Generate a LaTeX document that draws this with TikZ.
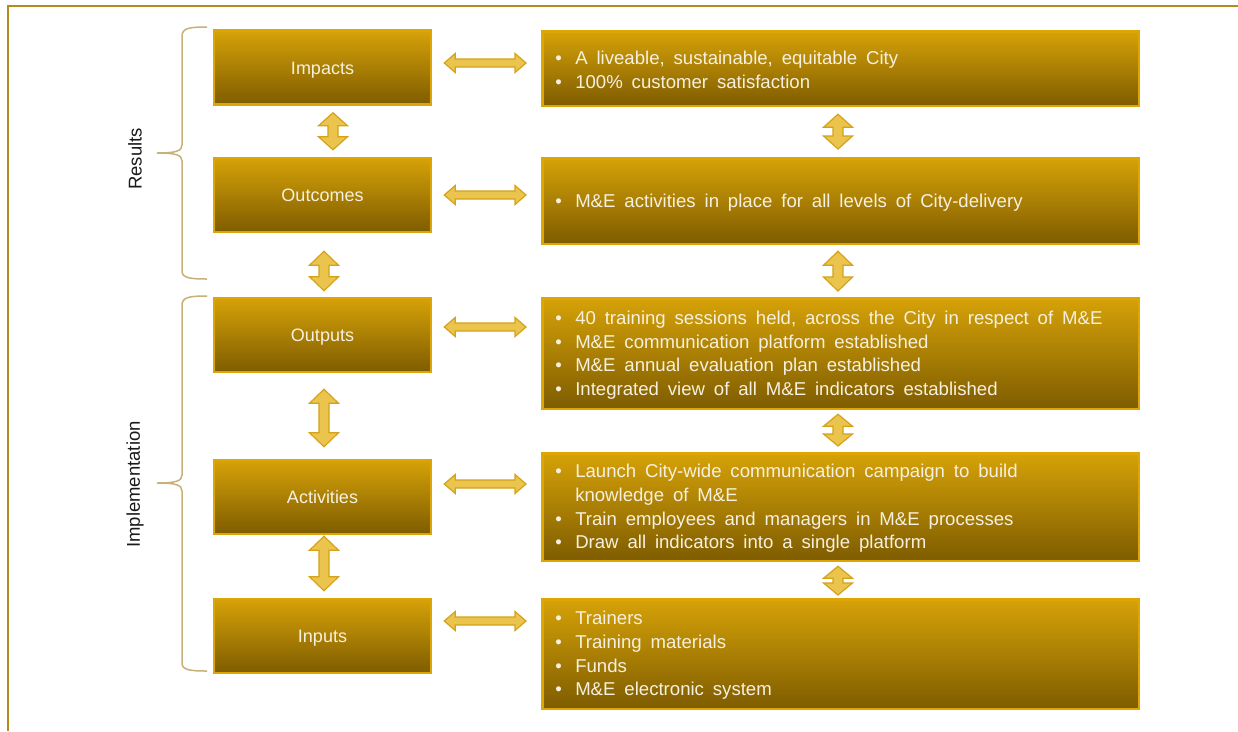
\documentclass[tikz,border=0pt]{standalone}
\usepackage{fontspec}
\setmainfont{Liberation Sans}
\newfontfamily\listfont{Liberation Sans}[WordSpace=1.72]
\usetikzlibrary{calc}

\definecolor{boxedge}{RGB}{222,166,4}
\definecolor{boxtop}{RGB}{214,162,8}
\definecolor{boxbot}{RGB}{126,92,0}
\definecolor{boxtext}{RGB}{246,240,224}
\definecolor{arrfill}{RGB}{234,196,76}
\definecolor{arredge}{RGB}{214,162,26}
\definecolor{bracec}{RGB}{200,176,120}
\definecolor{framec}{RGB}{182,138,32}
\definecolor{labelc}{RGB}{26,26,26}

\tikzset{
  goldbox/.style={draw=boxedge, line width=2.5pt, top color=boxtop, bottom color=boxbot,
    text=boxtext},
  lbox/.style={goldbox, minimum width=217pt, minimum height=74pt, inner sep=0pt,
    font=\fontsize{18}{22}\selectfont, text height=13pt, text depth=0pt},
  rbox/.style={goldbox, minimum width=596.5pt, inner xsep=13pt, inner ysep=0pt},
  blockarrow/.style={draw=arredge, fill=arrfill, line width=1.2pt, line join=miter},
  bracket/.style={draw=bracec, line width=1.5pt},
  sidelabel/.style={rotate=90, text=labelc, font=\fontsize{18.5}{22}\selectfont},
}

% bulleted block for the right-hand boxes, set slightly low in its box
\newcommand\bul{\makebox[20pt][l]{\textbullet}}
\newcommand\hang{\hspace*{20pt}}
\newcommand\itemsblock[1]{\raisebox{-1.5pt}[\height][\depth]{%
  \parbox{570.5pt}{\listfont\fontsize{18.6}{23.6}\selectfont\raggedright #1}}}

% horizontal double block arrow between two points at the same height
\newcommand\harrow[2]{\draw[blockarrow] let \p1=(#1), \p2=(#2) in
  (\x1,\y1) -- (\x1+11pt,\y1+9.5pt) -- (\x1+11pt,\y1+4pt) -- (\x2-11pt,\y1+4pt)
  -- (\x2-11pt,\y1+9.5pt) -- (\x2,\y1) -- (\x2-11pt,\y1-9.5pt) -- (\x2-11pt,\y1-4pt)
  -- (\x1+11pt,\y1-4pt) -- (\x1+11pt,\y1-9.5pt) -- cycle;}

% vertical double block arrow from a top point to a bottom point, #3 = head length
\newcommand\varrow[3]{\draw[blockarrow] let \p1=(#1), \p2=(#2) in
  (\x1,\y1) -- (\x1+14.5pt,\y1-#3) -- (\x1+5pt,\y1-#3) -- (\x1+5pt,\y2+#3)
  -- (\x1+14.5pt,\y2+#3) -- (\x1,\y2) -- (\x1-14.5pt,\y2+#3) -- (\x1-5pt,\y2+#3)
  -- (\x1-5pt,\y1-#3) -- (\x1-14.5pt,\y1-#3) -- cycle;}

\begin{document}
\begin{tikzpicture}[x=1pt, y=-1pt]
\useasboundingbox (0,0) rectangle (1238,731);
\fill[white] (0,0) rectangle (1238,731);

% frame
\draw[framec, line width=2pt] (8,731) -- (8,6) -- (1238,6);

% left column
\node[lbox] (imp)  at (322.5,67.5) {Impacts};
\node[lbox] (out)  at (322.5,195)  {Outcomes};
\node[lbox] (outp) at (322.5,335)  {Outputs};
\node[lbox] (act)  at (322.5,497)  {Activities};
\node[lbox] (inp)  at (322.5,636)  {Inputs};

% right column
\node[rbox, minimum height=74.5pt] (impR) at (840.5,68.5) {\itemsblock{%
  \bul A liveable, sustainable, equitable City\\
  \bul 100\% customer satisfaction}};
\node[rbox, minimum height=85.5pt] (outR) at (840.5,201) {\itemsblock{%
  \bul M\&E activities in place for all levels of City-delivery}};
\node[rbox, minimum height=110.5pt] (outpR) at (840.5,353.5) {\itemsblock{%
  \bul 40 training sessions held, across the City in respect of M\&E\\
  \bul M\&E communication platform established\\
  \bul M\&E annual evaluation plan established\\
  \bul Integrated view of all M\&E indicators established}};
\node[rbox, minimum height=107.5pt] (actR) at (840.5,507) {\itemsblock{%
  \bul Launch City-wide communication campaign to build\\
  \hang knowledge of M\&E\\
  \bul Train employees and managers in M\&E processes\\
  \bul Draw all indicators into a single platform}};
\node[rbox, minimum height=109.5pt] (inpR) at (840.5,654) {\itemsblock{%
  \bul Trainers\\
  \bul Training materials\\
  \bul Funds\\
  \bul M\&E electronic system}};

% horizontal links
\harrow{$(imp.east)+(12,-4.5)$}{$(impR.west)+(-15,-5.5)$}
\harrow{$(out.east)+(12,0)$}{$(outR.west)+(-15,-6)$}
\harrow{$(outp.east)+(12,-8)$}{$(outpR.west)+(-15,-26.5)$}
\harrow{$(act.east)+(12,-13)$}{$(actR.west)+(-15,-23)$}
\harrow{$(inp.east)+(12,-15)$}{$(inpR.west)+(-15,-33)$}

% vertical links, left column
\varrow{$(imp.south)+(10.5,7)$}{$(out.north)+(10.5,-7)$}{13pt}
\varrow{$(out.south)+(1.5,18)$}{$(outp.north)+(1.5,-6)$}{14pt}
\varrow{$(outp.south)+(1.5,16)$}{$(act.north)+(1.5,-12)$}{14pt}
\varrow{$(act.south)+(1.5,1)$}{$(inp.north)+(1.5,-7)$}{14pt}

% vertical links, right column
\varrow{$(impR.south)+(-2.5,7.25)$}{$(outR.north)+(-2.5,-8)$}{13pt}
\varrow{$(outR.south)+(-2.5,6.25)$}{$(outpR.north)+(-2.5,-6)$}{14pt}
\varrow{$(outpR.south)+(-2.5,4.25)$}{$(actR.north)+(-2.5,-6)$}{12pt}
\varrow{$(actR.south)+(-2.5,4.25)$}{$(inpR.north)+(-2.5,-3)$}{12pt}

% grouping braces
\draw[bracket] (207,27) .. controls (190,27) and (182,28) .. (182,36) -- (182,145)
  .. controls (182,151) and (176,153) .. (157,153)
  .. controls (176,153) and (182,155) .. (182,161) -- (182,271)
  .. controls (182,278) and (190,279) .. (207,279);
\draw[bracket] (207,296) .. controls (190,296) and (182,297) .. (182,305) -- (182,475)
  .. controls (182,481) and (176,483) .. (157,483)
  .. controls (176,483) and (182,485) .. (182,491) -- (182,663)
  .. controls (182,670) and (190,671) .. (207,671);

\node[sidelabel] (results) at (135,159) {Results};
\node[sidelabel] (impl) at (135,484.5) {Implementation};
\end{tikzpicture}
\end{document}
